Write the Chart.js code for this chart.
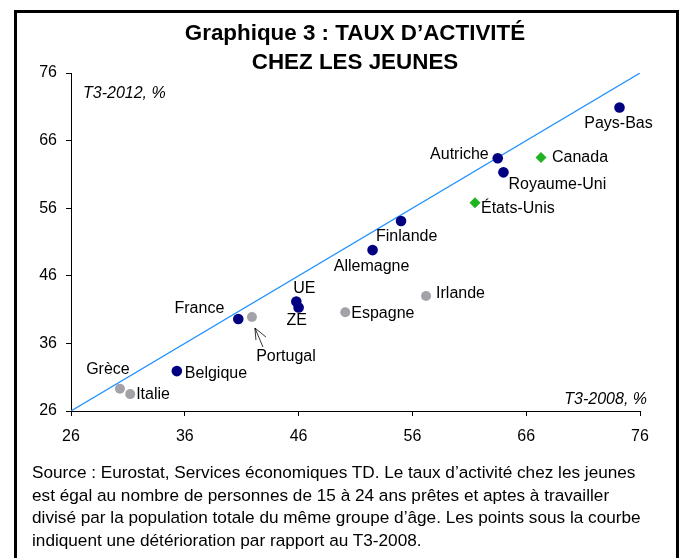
<!DOCTYPE html>
<html lang="fr">
<head>
<meta charset="utf-8">
<title>Graphique 3 : Taux d'activité chez les jeunes</title>
<script src="https://cdn.jsdelivr.net/npm/chart.js@4/dist/chart.umd.min.js"></script>
<style>
  html, body { margin: 0; padding: 0; background: #fff; }
  #wrap { position: relative; width: 681px; height: 558px; overflow: hidden; font-family: "Liberation Sans", Arial, sans-serif; }
  #chart { position: absolute; left: 0; top: 0; }
  #frame { position: absolute; left: 14px; top: 10px; width: 659px; height: 570px; border: 3px solid #000; }
  #title { position: absolute; left: 0; top: 19px; width: 710px; text-align: center; font-weight: bold; font-size: 22.4px; line-height: 28.5px; color: #000; }
  #note { position: absolute; left: 32px; top: 461px; font-size: 17.2px; line-height: 22.7px; color: #000; white-space: nowrap; }
</style>
</head>
<body>
<div id="wrap">
  <canvas id="chart" width="681" height="558"></canvas>
  <div id="frame"></div>
  <div id="title">Graphique 3 : TAUX D’ACTIVITÉ<br>CHEZ LES JEUNES</div>
  <div id="note">Source : Eurostat, Services économiques TD. Le taux d’activité chez les jeunes<br>est égal au nombre de personnes de 15 à 24 ans prêtes et aptes à travailler<br>divisé par la population totale du même groupe d’âge. Les points sous la courbe<br>indiquent une détérioration par rapport au T3-2008.</div>
</div>
<script>
// valeurs (en %)
var pays = ["Pays-Bas", "Autriche", "Royaume-Uni", "Canada", "États-Unis", "Finlande", "Allemagne", "Irlande",
  "UE", "ZE", "Espagne", "France", "Portugal", "Belgique", "Grèce", "Italie"];
var tauxT32008 = [74.2, 63.5, 64.0, 67.3, 61.5, 55.0, 52.5, 57.2, 45.8, 46.0, 50.1, 40.7, 41.9, 35.3, 30.3, 31.2];
var tauxT32012 = [70.9, 63.4, 61.3, 63.5, 56.8, 54.1, 49.8, 43.0, 42.2, 41.3, 40.6, 39.6, 39.9, 31.9, 29.3, 28.5];
var groupes = ["europe", "europe", "europe", "amerique", "amerique", "europe", "europe", "sud",
  "europe", "europe", "sud", "europe", "sud", "europe", "sud", "sud"];
var bornes = [26, 76];
var pas = 10;

var FONT = "'Liberation Sans', Arial, sans-serif";

// placement des étiquettes autour des points
var etiquettes = {
  "Pays-Bas": { dx: -1, dy: 16, align: "center" },
  "Autriche": { dx: -9, dy: -4, align: "right" },
  "Canada": { dx: 11, dy: 0, align: "left" },
  "Royaume-Uni": { dx: 5, dy: 12, align: "left" },
  "États-Unis": { dx: 6, dy: 6, align: "left" },
  "Finlande": { dx: -25, dy: 16, align: "left" },
  "Allemagne": { dx: -1, dy: 16, align: "center" },
  "France": { dx: -14, dy: -10, align: "right" },
  "UE": { dx: 8, dy: -13, align: "center" },
  "ZE": { dx: -2, dy: 13, align: "center" },
  "Espagne": { dx: 6, dy: 1, align: "left" },
  "Irlande": { dx: 10, dy: -2, align: "left" },
  "Portugal": { dx: 34, dy: 40, align: "center" },
  "Belgique": { dx: 8, dy: 2, align: "left" },
  "Grèce": { dx: -12, dy: -19, align: "center" },
  "Italie": { dx: 6, dy: 0, align: "left" }
};

function pointsDuGroupe(g) {
  var out = [];
  pays.forEach(function (nom, i) {
    if (groupes[i] === g) out.push({ x: tauxT32008[i], y: tauxT32012[i], nom: nom });
  });
  return out;
}

var labelPlugin = {
  id: "labels",
  afterDatasetsDraw: function (chart) {
    var ctx = chart.ctx;
    var area = chart.chartArea;
    ctx.save();
    ctx.fillStyle = "#000";
    ctx.font = "16px " + FONT;
    ctx.textBaseline = "middle";
    chart.data.datasets.forEach(function (ds, di) {
      if (!ds.showLabels) return;
      var meta = chart.getDatasetMeta(di);
      meta.data.forEach(function (pt, i) {
        var nom = ds.data[i].nom;
        var p = etiquettes[nom];
        ctx.textAlign = p.align;
        ctx.fillText(nom, pt.x + p.dx, pt.y + p.dy);
        if (nom === "Portugal") {
          ctx.strokeStyle = "#000";
          ctx.lineWidth = 0.8;
          ctx.beginPath();
          ctx.moveTo(pt.x + 3, pt.y + 11);
          ctx.lineTo(pt.x + 11, pt.y + 30);
          ctx.moveTo(pt.x + 3, pt.y + 11);
          ctx.lineTo(pt.x + 14, pt.y + 20);
          ctx.moveTo(pt.x + 3, pt.y + 11);
          ctx.lineTo(pt.x + 4, pt.y + 23);
          ctx.stroke();
        }
      });
    });
    ctx.font = "italic 16px " + FONT;
    ctx.textAlign = "left";
    ctx.fillText("T3-2012, %", area.left + 12, area.top + 21);
    ctx.textAlign = "right";
    ctx.fillText("T3-2008, %", area.right + 7, area.bottom - 11);
    ctx.restore();
  }
};

function axe(largeur) {
  return {
    type: "linear",
    min: bornes[0],
    max: bornes[1],
    ticks: { stepSize: pas, color: "#000", font: { family: FONT, size: 16 }, padding: largeur ? 9 : 11 },
    grid: { display: true, drawOnChartArea: false, drawTicks: true, tickLength: 5, tickColor: "#000" },
    border: { display: true, color: "#000", width: 1 }
  };
}

var scaleX = axe(false);
scaleX.afterFit = function (scale) { scale.height = 40; };
var scaleY = axe(true);
scaleY.afterFit = function (scale) { scale.width = 71; };

new Chart(document.getElementById("chart"), {
  type: "scatter",
  data: {
    datasets: [
      {
        label: "Europe",
        data: pointsDuGroupe("europe"),
        backgroundColor: "#000080",
        borderWidth: 0,
        pointRadius: 5.3,
        showLabels: true,
        order: 1
      },
      {
        label: "Autres",
        data: pointsDuGroupe("sud"),
        backgroundColor: "#a2a2a8",
        borderWidth: 0,
        pointRadius: 5,
        showLabels: true,
        order: 1
      },
      {
        label: "Amérique du Nord",
        data: pointsDuGroupe("amerique"),
        backgroundColor: "#1fb31f",
        borderWidth: 0,
        pointStyle: "rectRot",
        pointRadius: 5.5,
        showLabels: true,
        order: 1
      },
      {
        type: "line",
        label: "45°",
        data: [{ x: bornes[0], y: bornes[0] }, { x: bornes[1], y: bornes[1] }],
        borderColor: "#1e90ff",
        borderWidth: 1.2,
        pointRadius: 0,
        fill: false,
        order: 10
      }
    ]
  },
  options: {
    responsive: false,
    animation: false,
    layout: { padding: { left: 0, right: 41, top: 73, bottom: 107 } },
    plugins: { legend: { display: false }, tooltip: { enabled: false } },
    scales: { x: scaleX, y: scaleY }
  },
  plugins: [labelPlugin]
});
</script>
</body>
</html>
